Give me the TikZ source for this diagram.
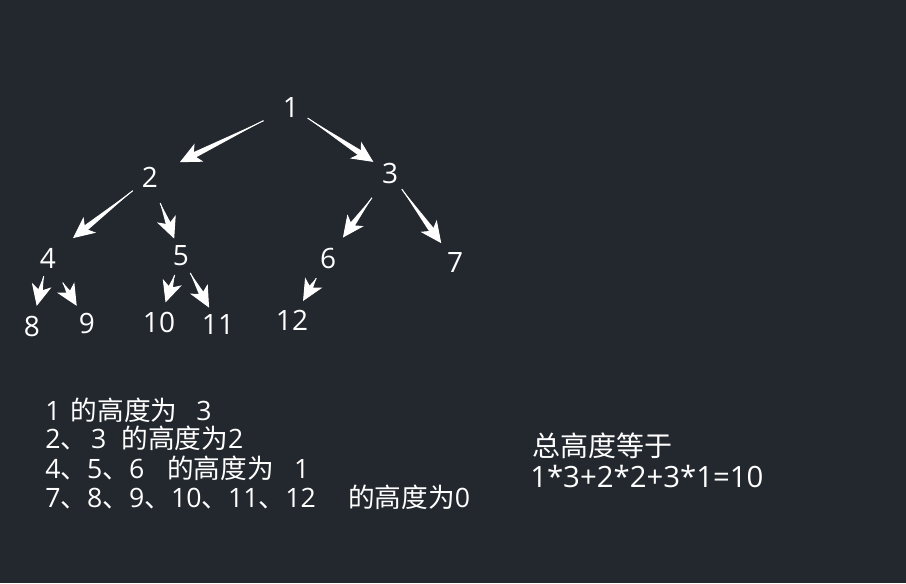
\documentclass[tikz,border=0pt]{standalone}
\usepackage{fontspec}
\setmainfont{Open Sans}
\newfontfamily\cjk{Noto Sans CJK SC}
\usetikzlibrary{positioning,arrows.meta,calc}
\definecolor{bgcol}{RGB}{35,39,46}

% arrow that gets thicker towards its head
\newcommand{\taperarrow}[4]{%
    \coordinate (ta) at ($(#1)!#3!(#2)$);
    \coordinate (tb) at ($(#2)!#4!(#1)$);
    \coordinate (tc) at ($(tb)!9pt!(ta)$);
    \fill[white] (ta) -- ($(tc)!2.3pt!90:(ta)$) -- ($(tc)!2.3pt!-90:(ta)$) -- cycle;
    \draw[arr] (ta) -- (tb);
}

\begin{document}
\begin{tikzpicture}[on grid,
    num/.style={text=white, inner sep=2pt, font=\fontsize{21}{25}\selectfont},
    txt/.style={text=white, inner sep=0pt, anchor=base west, font=\fontsize{20}{24}\selectfont},
    arr/.style={white, line width=0.8pt, -{Stealth[length=16pt, width=15pt, inset=4.5pt]}}
]

    \fill[bgcol] (0,0) rectangle (679.5pt,-437.25pt);

    % the tree
    \node[num] (n1) at (218.25pt,-80.25pt) {1};
    \node[num, below left=52.5pt and 105.75pt of n1] (n2) {2};
    \node[num, below right=49.5pt and 74.25pt of n1] (n3) {3};

    \node[num, below left=60.75pt and 76.5pt of n2] (n4) {4};
    \node[num, below right=59.25pt and 23.25pt of n2] (n5) {5};
    \node[num, below left=63.75pt and 46.5pt of n3] (n6) {6};
    \node[num, below right=66.75pt and 48.75pt of n3] (n7) {7};

    \node[num, below left=51pt and 12pt of n4] (n8) {8};
    \node[num, below right=48.75pt and 29.25pt of n4] (n9) {9};
    \node[num, below left=49.5pt and 16.5pt of n5] (n10) {10};
    \node[num, below right=51pt and 27.75pt of n5] (n11) {11};
    \node[num, below left=46.5pt and 27pt of n6] (n12) {12};

    \taperarrow{n1}{n2}{23pt}{25pt}
    \taperarrow{n1}{n3}{15pt}{15pt}
    \taperarrow{n2}{n4}{16.5pt}{24pt}
    \taperarrow{n2}{n5}{21pt}{14pt}
    \taperarrow{n3}{n6}{23pt}{19pt}
    \taperarrow{n3}{n7}{15pt}{17.5pt}
    \taperarrow{n4}{n8}{14pt}{15.5pt}
    \taperarrow{n4}{n9}{21.5pt}{15pt}
    \taperarrow{n5}{n10}{15pt}{15.5pt}
    \taperarrow{n5}{n11}{14.5pt}{14pt}
    \taperarrow{n6}{n12}{17.5pt}{16.5pt}

    % heights of the nodes
    \node[txt] (h1) at (33.75pt,-315pt) {1\hspace{2.5pt} {\cjk 的高度为}\hspace{9pt} 3};
    \node[txt] (h2) at (33.75pt,-336pt) {2{\cjk 、}\hspace{3pt}3\hspace{6pt} {\cjk 的高度为}2};
    \node[txt] (h3) at (33.75pt,-358.5pt) {4{\cjk 、}5{\cjk 、}6\hspace{12pt} {\cjk 的高度为}\hspace{10pt} 1};
    \node[txt] (h4) at (33.75pt,-380.25pt) {7{\cjk 、}8{\cjk 、}9{\cjk 、}10{\cjk 、}11{\cjk 、}12\hspace{19pt} {\cjk 的高度为}0};

    % sum
    \node[txt, font=\fontsize{21}{25}\selectfont] (sum) at (399pt,-342pt) {\cjk 总高度等于};
    \node[txt, font=\fontsize{22}{26}\selectfont] (total) at (397.5pt,-365.25pt) {1*3+2*2+3*1=10};

\end{tikzpicture}
\end{document}
